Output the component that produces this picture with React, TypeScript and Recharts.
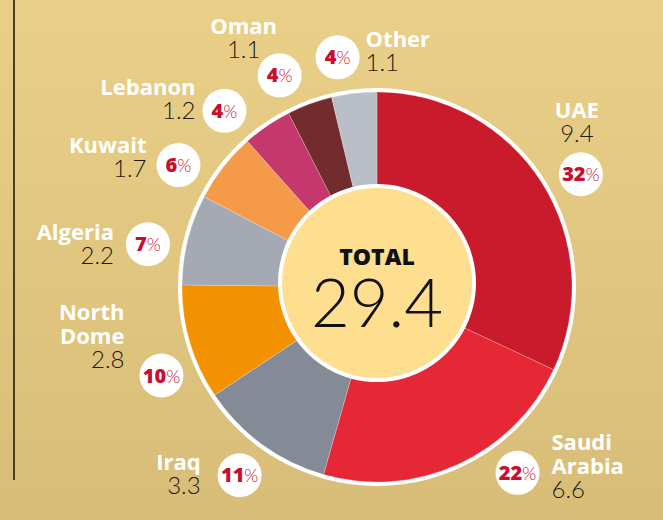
import { PieChart, Pie, Cell, Label } from 'recharts';

// Gas supply by source (bcm), clockwise from 12 o'clock
const names = ['UAE', 'Saudi Arabia', 'Iraq', 'North Dome', 'Algeria', 'Kuwait', 'Lebanon', 'Oman', 'Other'];
const values = [9.4, 6.6, 3.3, 2.8, 2.2, 1.7, 1.2, 1.1, 1.1];
const colors = ['#C91B2C', '#E62836', '#848A96', '#F39200', '#A5A9B4', '#F59A48', '#C5386B', '#722C2E', '#BABEC6'];

const data = names.map((name, i) => ({ name, value: values[i] }));
const total = values.reduce((s, v) => s + v, 0);

const CX = 377;
const CY = 287;
const BADGE_R = 233;
const RAD = Math.PI / 180;

// per-label nudges: angle shift (deg, clockwise), text anchor and offset from badge centre
const labelLayout = [
  { shift: 3.5, anchor: 'middle', tx: -4, ty: -56 },
  { shift: -12.6, anchor: 'start', tx: 34, ty: -23 },
  { shift: 0, anchor: 'end', tx: -39, ty: -5 },
  { shift: -5.8, anchor: 'end', tx: -37, ty: -56 },
  { shift: -3.5, anchor: 'end', tx: -34, ty: -4 },
  { shift: -6.4, anchor: 'end', tx: -32, ty: -12 },
  { shift: -6.6, anchor: 'end', tx: -29, ty: -16 },
  { shift: -4.5, anchor: 'middle', tx: -36, ty: -41 },
  { shift: -3, anchor: 'start', tx: 28, ty: -10 },
];

const renderLabel = (p: any) => {
  const { cx, cy, midAngle, index, percent } = p;
  const lay = labelLayout[index];
  const a = (midAngle - lay.shift) * -RAD;
  const bx = cx + BADGE_R * Math.cos(a);
  const by = cy + BADGE_R * Math.sin(a);
  const lines = names[index].split(' ');
  const x = bx + lay.tx;
  return (
    <g>
      <text x={x} y={by + lay.ty} textAnchor={lay.anchor} fontFamily="Open Sans" fontWeight={700} fontSize={22} fill="#fff">
        {lines.map((l, i) => (
          <tspan key={l} x={x} dy={i === 0 ? 0 : 24}>{l}</tspan>
        ))}
      </text>
      <text x={x} y={by + lay.ty + lines.length * 24} textAnchor={lay.anchor} fontFamily="Lato" fontWeight={300} fontSize={24} fill="#1d1a14">
        {values[index].toFixed(1)}
      </text>
      <circle cx={bx} cy={by} r={22} fill="#fff" />
      <text x={bx} y={by + 7} textAnchor="middle" fill="#C8102E" fontFamily="Open Sans">
        <tspan fontWeight={800} fontSize={20}>{Math.round(percent * 100)}</tspan>
        <tspan fontFamily="Lato" fontWeight={300} fontSize={18}>%</tspan>
      </text>
    </g>
  );
};

const centerLabel = () => (
  <g>
    <text x={CX} y={265} textAnchor="middle" fontFamily="Open Sans" fontWeight={800} fontSize={23} fill="#111">TOTAL</text>
    <text x={CX} y={327} textAnchor="middle" fontFamily="Lato" fontWeight={300} fontSize={67} fill="#111">{total.toFixed(1)}</text>
  </g>
);

export default function App() {
  return (
    <div
      style={{
        position: 'absolute',
        left: 0,
        top: 0,
        width: 663,
        height: 520,
        background: 'linear-gradient(180deg, #E9CF87 0%, #D8BD78 100%)',
        overflow: 'hidden',
      }}
    >
      <div style={{ position: 'absolute', left: 13, top: 0, width: 1.5, height: 480, background: '#4a3d22' }} />
      <PieChart width={663} height={520} margin={{ top: 0, right: 0, bottom: 0, left: 0 }}>
        <Pie
          data={[{ value: 1 }]}
          dataKey="value"
          cx={CX}
          cy={CY}
          outerRadius={199}
          fill="#fff"
          stroke="none"
          isAnimationActive={false}
        />
        <Pie
          data={data}
          dataKey="value"
          cx={CX}
          cy={CY}
          outerRadius={195}
          startAngle={90}
          endAngle={-270}
          stroke="rgba(255,255,255,0.35)"
          strokeWidth={0.6}
          label={renderLabel}
          labelLine={false}
          isAnimationActive={false}
        >
          {data.map((d, i) => (
            <Cell key={d.name} fill={colors[i]} />
          ))}
        </Pie>
        <Pie
          data={[{ value: 1 }]}
          dataKey="value"
          cx={CX}
          cy={283}
          outerRadius={99}
          fill="#fff"
          stroke="none"
          isAnimationActive={false}
        />
        <Pie
          data={[{ value: 1 }]}
          dataKey="value"
          cx={CX}
          cy={283}
          outerRadius={95}
          fill="#FEDF90"
          stroke="none"
          isAnimationActive={false}
        >
          <Label position="center" content={centerLabel} />
        </Pie>
      </PieChart>
    </div>
  );
}
